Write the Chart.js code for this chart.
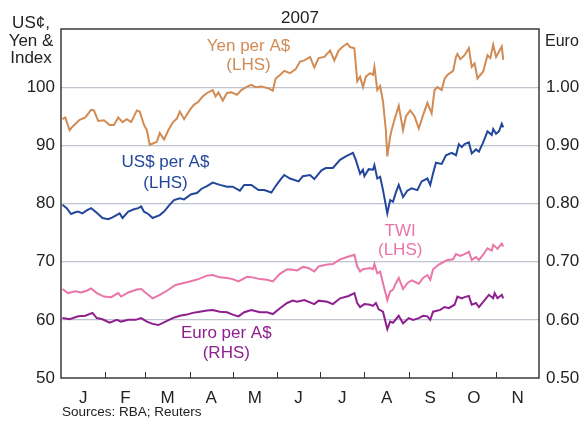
<!DOCTYPE html>
<html>
<head>
<meta charset="utf-8">
<script src="https://cdn.jsdelivr.net/npm/chart.js@4.4.1/dist/chart.umd.min.js"></script>
<style>
  html, body { margin: 0; padding: 0; background: #fff; }
  #wrap { width: 580px; height: 423px; position: relative; }
</style>
</head>
<body>
<div id="wrap"><canvas id="audChart"></canvas></div>
<script>
// x values are days since 1 Jan 2007
const monthLabels = ["J", "F", "M", "A", "M", "J", "J", "A", "S", "O", "N"];
const monthStarts = [0, 31, 59, 90, 120, 151, 181, 212, 243, 273, 304, 334];
const leftTicks = [50, 60, 70, 80, 90, 100, 110];
const rightTicks = [0.5, 0.6, 0.7, 0.8, 0.9, 1.0, 1.1];

const yenDays = [1, 3, 6, 8, 13, 17, 21, 23, 26, 30, 34, 37, 40, 43, 46, 49, 53, 55, 58, 60, 62, 65, 67, 69, 72, 75, 78, 81, 83, 86, 90, 93, 96, 99, 102, 106, 108, 110, 113, 116, 119, 123, 126, 130, 133, 136, 140, 145, 148, 150, 153, 156, 160, 164, 167, 170, 174, 177, 180, 184, 188, 191, 194, 197, 200, 202, 205, 207, 209, 211, 213, 216, 218, 219, 221, 223, 225, 227, 228, 230, 231, 233, 236, 239, 241, 244, 247, 250, 253, 256, 259, 261, 263, 266, 268, 270, 274, 276, 277, 279, 282, 285, 287, 289, 291, 295, 298, 300, 302, 304, 308, 309];
const yenValues = [94.5, 94.8, 92.6, 93.2, 94.4, 94.8, 96.1, 96.0, 94.2, 94.3, 93.5, 93.5, 94.8, 94.0, 94.5, 94.0, 96.0, 95.8, 93.5, 92.6, 90.1, 90.4, 90.6, 92.1, 91.0, 92.6, 93.9, 94.6, 95.8, 94.5, 96.1, 97.0, 97.5, 98.4, 99.0, 99.5, 98.4, 99.1, 97.7, 99.0, 99.1, 98.7, 99.5, 100.1, 100.4, 100.0, 100.1, 99.8, 99.4, 101.5, 102.1, 102.8, 102.4, 103.1, 104.4, 104.6, 105.2, 103.4, 105.0, 105.2, 106.3, 104.6, 106.3, 107.0, 107.5, 106.9, 106.7, 101.0, 101.8, 100.0, 101.8, 102.4, 102.1, 103.5, 99.5, 100.2, 97.5, 92.6, 88.1, 91.5, 92.6, 94.4, 96.8, 92.6, 95.0, 96.0, 95.0, 92.9, 95.2, 97.3, 95.5, 99.5, 100.0, 99.5, 101.4, 102.1, 102.8, 105.2, 105.7, 104.8, 105.5, 106.7, 103.5, 104.1, 101.5, 102.7, 105.5, 105.0, 107.3, 105.2, 107.0, 104.7];

const usdDays = [1, 4, 7, 10, 12, 15, 18, 21, 25, 29, 33, 36, 41, 43, 47, 51, 54, 56, 58, 61, 64, 69, 72, 76, 79, 83, 86, 91, 95, 98, 102, 106, 111, 116, 120, 125, 128, 133, 138, 142, 147, 150, 154, 156, 160, 166, 169, 174, 177, 182, 185, 190, 195, 199, 204, 206, 209, 211, 212, 215, 218, 219, 221, 223, 225, 228, 230, 232, 234, 236, 239, 242, 245, 249, 252, 256, 258, 260, 262, 266, 269, 273, 276, 278, 280, 282, 285, 287, 290, 292, 295, 298, 301, 302, 304, 306, 308, 309];
const usdValues = [79.8, 79.2, 78.2, 78.5, 78.6, 78.3, 78.8, 79.2, 78.4, 77.5, 77.3, 77.6, 78.3, 77.5, 78.6, 79.0, 79.2, 79.5, 78.6, 78.2, 77.5, 78.0, 78.6, 79.8, 80.6, 80.9, 80.7, 81.6, 81.8, 82.5, 83.0, 83.6, 83.2, 82.9, 82.9, 82.2, 83.2, 83.2, 82.3, 82.3, 81.9, 83.0, 84.3, 84.9, 84.3, 83.8, 84.7, 84.9, 84.2, 85.7, 86.1, 86.1, 87.5, 88.1, 88.7, 87.5, 85.1, 85.8, 84.7, 85.9, 85.8, 86.6, 84.3, 84.6, 82.3, 78.3, 80.6, 80.3, 81.9, 83.2, 81.1, 82.2, 82.6, 82.3, 83.8, 84.3, 83.2, 85.2, 87.0, 86.8, 88.3, 88.7, 88.3, 90.2, 89.7, 90.2, 90.5, 88.6, 89.3, 88.9, 90.5, 92.4, 91.8, 92.8, 92.0, 92.4, 93.7, 93.1];

const twiDays = [1, 5, 10, 14, 18, 21, 25, 30, 35, 40, 42, 47, 53, 56, 60, 64, 69, 74, 80, 85, 90, 96, 102, 106, 111, 116, 120, 124, 130, 134, 139, 144, 148, 153, 158, 162, 165, 169, 173, 177, 180, 186, 190, 195, 201, 205, 207, 209, 211, 216, 218, 219, 221, 223, 225, 228, 230, 232, 234, 236, 239, 242, 245, 250, 253, 256, 258, 260, 264, 267, 270, 274, 276, 279, 282, 285, 287, 290, 292, 295, 298, 301, 302, 305, 308, 309];
const twiValues = [65.3, 64.6, 64.9, 64.7, 65.0, 65.4, 64.6, 64.0, 63.9, 64.6, 64.0, 64.7, 65.2, 65.3, 64.5, 63.7, 64.3, 65.0, 66.0, 66.3, 66.6, 67.0, 67.6, 67.7, 67.3, 67.2, 67.0, 66.6, 67.4, 67.3, 67.0, 66.9, 66.6, 67.9, 68.7, 68.6, 68.5, 69.1, 68.9, 68.3, 69.2, 69.5, 69.6, 70.4, 70.9, 71.2, 69.2, 68.3, 68.7, 68.9, 68.7, 69.6, 68.0, 68.3, 66.3, 63.4, 64.9, 65.2, 66.3, 67.2, 65.3, 66.3, 66.8, 66.2, 67.2, 67.7, 66.9, 68.7, 69.5, 69.9, 70.3, 70.4, 71.3, 71.0, 71.3, 71.7, 70.3, 70.8, 70.3, 71.2, 72.3, 71.9, 72.9, 72.2, 73.1, 72.6];

const eurDays = [1, 6, 12, 17, 22, 25, 29, 34, 39, 42, 47, 52, 56, 60, 64, 68, 73, 78, 83, 88, 92, 97, 102, 106, 111, 116, 120, 124, 128, 133, 139, 144, 148, 153, 158, 162, 165, 170, 177, 180, 186, 190, 195, 201, 205, 207, 209, 212, 216, 218, 220, 222, 225, 228, 230, 232, 236, 239, 243, 246, 250, 253, 256, 258, 260, 265, 268, 271, 275, 277, 280, 282, 285, 287, 290, 292, 295, 299, 302, 303, 305, 308, 309];
const eurValues = [0.603, 0.601, 0.606, 0.607, 0.612, 0.603, 0.601, 0.595, 0.600, 0.597, 0.600, 0.600, 0.603, 0.597, 0.593, 0.591, 0.597, 0.603, 0.607, 0.609, 0.612, 0.614, 0.616, 0.617, 0.614, 0.613, 0.609, 0.606, 0.613, 0.617, 0.613, 0.613, 0.610, 0.620, 0.629, 0.633, 0.631, 0.634, 0.627, 0.633, 0.631, 0.627, 0.637, 0.641, 0.646, 0.629, 0.622, 0.627, 0.626, 0.624, 0.629, 0.618, 0.614, 0.584, 0.597, 0.595, 0.607, 0.594, 0.603, 0.600, 0.603, 0.607, 0.606, 0.600, 0.614, 0.617, 0.622, 0.620, 0.626, 0.640, 0.637, 0.639, 0.641, 0.626, 0.629, 0.622, 0.631, 0.643, 0.637, 0.646, 0.637, 0.643, 0.637];

const yenColor = "#d18c56";
const usdColor = "#23479b";
const twiColor = "#ea75a8";
const eurColor = "#8e1f8e";
const font = "Liberation Sans, Arial, sans-serif";

function points(days, values) {
  return days.map((d, i) => ({ x: d, y: values[i] }));
}

// series labels, placed in data units
const seriesLabels = [
  { text: "Yen per A$", x: 131, y: 107.1, color: yenColor, axis: "y" },
  { text: "(LHS)", x: 131, y: 103.7, color: yenColor, axis: "y" },
  { text: "US$ per A$", x: 73, y: 87.1, color: usdColor, axis: "y" },
  { text: "(LHS)", x: 73, y: 83.5, color: usdColor, axis: "y" },
  { text: "TWI", x: 237, y: 75.3, color: twiColor, axis: "y" },
  { text: "(LHS)", x: 237, y: 72.0, color: twiColor, axis: "y" },
  { text: "Euro per A$", x: 115.5, y: 0.576, color: eurColor, axis: "y1" },
  { text: "(RHS)", x: 115.5, y: 0.543, color: eurColor, axis: "y1" },
];

const decorations = {
  id: "decorations",
  afterDraw(chart) {
    const { ctx, chartArea, scales } = chart;
    ctx.save();

    // month tick marks pointing into the plot
    ctx.strokeStyle = "#333";
    ctx.lineWidth = 1;
    monthStarts.slice(1, -1).forEach((d) => {
      const px = Math.round(scales.x.getPixelForValue(d)) + 0.5;
      ctx.beginPath();
      ctx.moveTo(px, chartArea.bottom);
      ctx.lineTo(px, chartArea.bottom - 6);
      ctx.stroke();
    });

    // frame
    ctx.strokeStyle = "#3a3a3a";
    ctx.lineWidth = 1.5;
    ctx.strokeRect(chartArea.left, chartArea.top, chartArea.right - chartArea.left, chartArea.bottom - chartArea.top);

    // series labels
    ctx.font = "17px " + font;
    ctx.textAlign = "center";
    ctx.textBaseline = "middle";
    seriesLabels.forEach((l) => {
      ctx.fillStyle = l.color;
      ctx.fillText(l.text, scales.x.getPixelForValue(l.x), scales[l.axis].getPixelForValue(l.y));
    });

    // axis titles
    ctx.fillStyle = "#222";
    ctx.textBaseline = "alphabetic";
    ctx.fillText("2007", (chartArea.left + chartArea.right) / 2, 23);
    ctx.fillText("US¢,", 31, 28);
    ctx.fillText("Yen &", 31, 45.5);
    ctx.fillText("Index", 31, 63);
    ctx.textAlign = "left";
    ctx.font = "16px " + font;
    ctx.fillText("Euro", 545, 46);
    ctx.font = "13.5px " + font;
    ctx.fillText("Sources: RBA; Reuters", 62, 416);
    ctx.restore();
  },
};

const ctx = document.getElementById("audChart").getContext("2d");
new Chart(ctx, {
  type: "line",
  data: {
    datasets: [
      { label: "Yen per A$", data: points(yenDays, yenValues), borderColor: yenColor, yAxisID: "y" },
      { label: "US$ per A$", data: points(usdDays, usdValues), borderColor: usdColor, yAxisID: "y" },
      { label: "TWI", data: points(twiDays, twiValues), borderColor: twiColor, yAxisID: "y" },
      { label: "Euro per A$", data: points(eurDays, eurValues), borderColor: eurColor, yAxisID: "y1" },
    ],
  },
  options: {
    responsive: true,
    maintainAspectRatio: false,
    animation: false,
    layout: { padding: { top: 29, left: 0, right: 0, bottom: 0 } },
    elements: {
      point: { radius: 0 },
      line: { borderWidth: 2, tension: 0 },
    },
    plugins: {
      legend: { display: false },
      tooltip: { enabled: false },
    },
    scales: {
      x: {
        type: "linear",
        min: monthStarts[0],
        max: monthStarts[monthStarts.length - 1],
        afterBuildTicks: (scale) => {
          scale.ticks = monthLabels.map((m, i) => ({ value: (monthStarts[i] + monthStarts[i + 1]) / 2 }));
        },
        afterFit: (scale) => { scale.height = 45; },
        ticks: {
          autoSkip: false,
          maxRotation: 0,
          padding: 2,
          color: "#222",
          font: { size: 17, family: font },
          callback: (v, i) => monthLabels[i],
        },
        grid: { display: false },
        border: { display: false },
      },
      y: {
        position: "left",
        min: leftTicks[0],
        max: leftTicks[leftTicks.length - 1],
        afterBuildTicks: (scale) => { scale.ticks = leftTicks.map((v) => ({ value: v })); },
        afterFit: (scale) => { scale.width = 61; },
        ticks: {
          padding: 6,
          color: "#222",
          font: { size: 17, family: font },
          callback: (v) => (v === 110 ? "" : v),
        },
        grid: {
          drawTicks: false,
          lineWidth: 1.2,
          color: (c) => (c.tick.value === 50 || c.tick.value === 110 ? "rgba(0,0,0,0)" : "#bdc4cd"),
        },
        border: { display: false },
      },
      y1: {
        position: "right",
        min: rightTicks[0],
        max: rightTicks[rightTicks.length - 1],
        afterBuildTicks: (scale) => { scale.ticks = rightTicks.map((v) => ({ value: v })); },
        afterFit: (scale) => { scale.width = 41; },
        ticks: {
          padding: 7,
          color: "#222",
          font: { size: 17, family: font },
          callback: (v) => (v > 1.05 ? "" : v.toFixed(2)),
        },
        grid: { drawOnChartArea: false, drawTicks: false },
        border: { display: false },
      },
    },
  },
  plugins: [decorations],
});
</script>
</body>
</html>
